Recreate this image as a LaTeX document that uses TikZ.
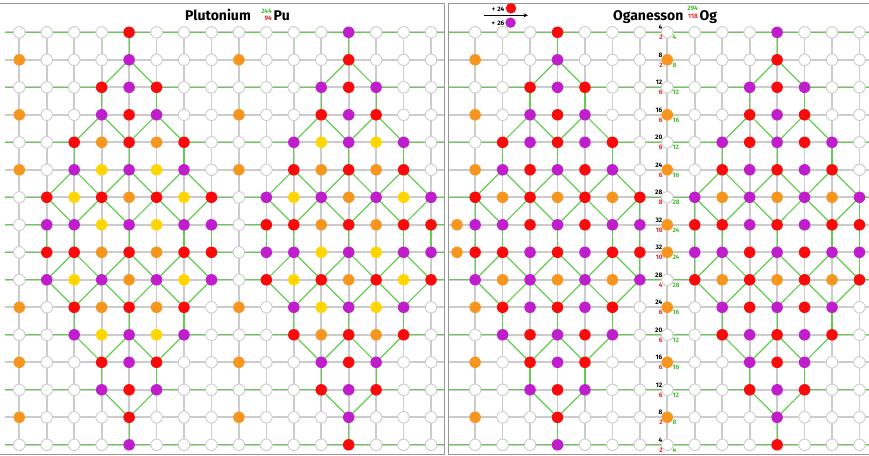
\documentclass[tikz,border=0pt]{standalone}
\usepackage{fontspec}
\setmainfont{Fira Sans}
\usetikzlibrary{arrows.meta}
\pgfdeclarelayer{bg}
\pgfdeclarelayer{mid}
\pgfsetlayers{bg,mid,main}
\definecolor{cR}{RGB}{250,10,10}
\definecolor{cP}{RGB}{192,30,204}
\definecolor{cO}{RGB}{247,150,30}
\definecolor{cY}{RGB}{255,214,0}
\definecolor{gridg}{RGB}{204,204,204}
\definecolor{lineg}{RGB}{100,205,80}
\definecolor{frameg}{RGB}{150,150,150}
\definecolor{labg}{RGB}{70,190,50}
\definecolor{labr}{RGB}{235,40,40}
\begin{document}
\begin{tikzpicture}[x=1pt,y=-1pt,
  nd/.style={circle,inner sep=0pt,minimum size=11.5pt},
  nW/.style={nd,fill=white,draw=gridg,line width=0.9pt},
  nR/.style={nd,fill=cR},
  nP/.style={nd,fill=cP},
  nO/.style={nd,fill=cO},
  nY/.style={nd,fill=cY},
  gl/.style={draw=gridg,line width=1.7pt},
  gr/.style={draw=lineg,line width=1.2pt},
  ttl/.style={inner sep=0pt,font=\fontsize{14}{16}\selectfont\bfseries},
  iso/.style={inner sep=0pt,font=\fontsize{6.5}{7}\selectfont\bfseries},
  lab/.style={inner sep=0pt,font=\fontsize{6.5}{7}\selectfont\bfseries},
  leg/.style={inner sep=0pt,font=\fontsize{6.5}{7}\selectfont\bfseries}]
\useasboundingbox (0,0) rectangle (869,455);

% ---------- left panel nodes ----------
\foreach \r/\row in {
 0/{W,W,W,W,R,W,W,W,W,W,W,W,P,W,W,W},
 1/{O,W,W,W,P,W,W,W,O,W,W,W,R,W,W,W},
 2/{W,W,W,R,P,R,W,W,W,W,W,P,R,P,W,W},
 3/{O,W,W,P,R,P,W,W,O,W,W,R,P,R,W,W},
 4/{W,W,R,O,R,O,R,W,W,W,P,Y,P,Y,P,W},
 5/{O,W,P,Y,P,Y,P,W,O,W,R,O,R,O,R,W},
 6/{W,R,Y,R,O,R,Y,R,W,P,Y,P,O,P,Y,P},
 7/{W,P,P,Y,P,Y,P,P,W,R,R,O,R,O,R,R},
 8/{W,R,R,O,R,O,R,R,W,P,P,Y,P,Y,P,P},
 9/{W,P,Y,P,O,P,Y,P,W,R,Y,R,O,R,Y,R},
 10/{O,W,R,O,R,O,R,W,O,W,P,Y,P,Y,P,W},
 11/{W,W,P,Y,P,Y,P,W,W,W,R,O,R,O,R,W},
 12/{O,W,W,R,P,R,W,W,O,W,W,P,R,P,W,W},
 13/{W,W,W,P,R,P,W,W,W,W,W,R,P,R,W,W},
 14/{O,W,W,W,R,W,W,W,O,W,W,W,P,W,W,W},
 15/{W,W,W,W,P,W,W,W,W,W,W,W,R,W,W,W}} {
  \coordinate (LW-\r) at (5,{32.3+27.5*\r});
  \coordinate (LE-\r) at (443.5,{32.3+27.5*\r});
  \coordinate (RW-\r) at (449,{32.3+27.5*\r});
  \coordinate (RE-\r) at (869,{32.3+27.5*\r});
  \foreach \k [count=\cc from 0] in \row {
    \node[n\k] (L-\r-\cc) at ({19.3+27.45*\cc},{32.3+27.5*\r}) {};
  }
}
% ---------- right panel nodes ----------
\foreach \r/\row in {
 0/{W,W,W,R,W,W,W,W,W,W,W,P,W,W,W},
 1/{O,W,W,P,W,W,W,O,W,W,W,R,W,W,W},
 2/{W,W,R,P,R,W,W,W,W,W,P,R,P,W,W},
 3/{O,W,P,R,P,W,W,O,W,W,R,P,R,W,W},
 4/{W,R,P,R,P,R,W,W,W,P,R,P,R,P,W},
 5/{O,P,R,P,R,P,W,O,W,R,P,R,P,R,W},
 6/{R,O,R,O,R,O,R,W,P,O,P,O,P,O,P},
 7/{P,P,R,P,R,P,P,O,R,R,P,R,P,R,R},
 8/{R,R,P,R,P,R,R,O,P,P,R,P,R,P,P},
 9/{P,O,P,O,P,O,P,W,R,O,R,O,R,O,R},
 10/{O,R,P,R,P,R,W,O,W,P,R,P,R,P,W},
 11/{W,P,R,P,R,P,W,W,W,R,P,R,P,R,W},
 12/{O,W,R,P,R,W,W,O,W,W,P,R,P,W,W},
 13/{W,W,P,R,P,W,W,W,W,W,R,P,R,W,W},
 14/{O,W,W,R,W,W,W,O,W,W,W,P,W,W,W},
 15/{W,W,W,P,W,W,W,W,W,W,W,R,W,W,W}} {
  \foreach \k [count=\cc from 1] in \row {
    \node[n\k] (R-\r-\cc) at ({447.7+27.45*\cc},{32.3+27.5*\r}) {};
  }
}
\node[nO] (R-7-x) at (457,{32.3+27.5*7}) {};
\node[nO] (R-8-x) at (457,{32.3+27.5*8}) {};

% ---------- grey grid ----------
\begin{pgfonlayer}{bg}
\fill[white] (0,0) rectangle (869,455);
\foreach \r in {0,...,15} {
  \draw[gl] (LW-\r) -- (LE-\r);
  \draw[gl] (RW-\r) -- (RE-\r);
}
\foreach \cc in {0,...,15} { \draw[gl] (L-0-\cc.center) -- (L-15-\cc.center); }
\foreach \cc in {1,...,15} { \draw[gl] (R-0-\cc.center) -- (R-15-\cc.center); }
% frame
\draw[frameg,line width=0.9pt] (0,3.5) -- (444,3.5) -- (444,454) -- (0,454);
\draw[frameg,line width=0.9pt] (869,3.5) -- (448,3.5) -- (448,454) -- (869,454);
\end{pgfonlayer}

% ---------- green connections ----------
\begin{pgfonlayer}{mid}
\foreach \p in {L,R} {
  \draw[gr] (\p W-0) -- (\p E-0);
  \draw[gr] (\p W-15) -- (\p E-15);
}
\foreach \r/\a in {2/3,13/3,4/2,11/2,6/1,9/1} {
  \pgfmathtruncatemacro\bb{8-\a}
  \pgfmathtruncatemacro\cc{8+\a}
  \pgfmathtruncatemacro\dd{16-\a}
  \draw[gr] (LW-\r) -- (L-\r-\a.center);
  \draw[gr] (L-\r-\bb.center) -- (L-\r-\cc.center);
  \draw[gr] (L-\r-\dd.center) -- (LE-\r);
  \draw[gr] (RW-\r) -- (R-\r-\a.center);
  \draw[gr] (R-\r-\bb.center) -- (R-\r-\cc.center);
  \draw[gr] (R-\r-\dd.center) -- (RE-\r);
}
\foreach \r in {7,8} {
  \draw[gr] (LW-\r) -- (L-\r-1.center);
  \draw[gr] (L-\r-7.center) -- (L-\r-9.center);
  \draw[gr] (L-\r-15.center) -- (LE-\r);
}
\foreach \ra/\da/\rb/\db in {0/0/1/0, 1/0/2/-1, 1/0/2/1, 2/-1/3/-1, 2/1/3/1,
   3/-1/4/-2, 3/-1/4/0, 3/1/4/0, 3/1/4/2, 4/-2/5/-2, 4/0/5/0, 4/2/5/2,
   5/-2/6/-3, 5/-2/6/-1, 5/0/6/-1, 5/0/6/1, 5/2/6/1, 5/2/6/3,
   6/-3/7/-2, 6/-1/7/-2, 6/-1/7/0, 6/1/7/0, 6/1/7/2, 6/3/7/2} {
  \foreach \s in {4,12} {
    \pgfmathtruncatemacro\ca{\s+\da}
    \pgfmathtruncatemacro\cb{\s+\db}
    \pgfmathtruncatemacro\rma{15-\ra}
    \pgfmathtruncatemacro\rmb{15-\rb}
    \foreach \p in {L,R} {
      \draw[gr] (\p-\ra-\ca.center) -- (\p-\rb-\cb.center);
      \draw[gr] (\p-\rma-\ca.center) -- (\p-\rmb-\cb.center);
    }
  }
}
\foreach \s in {4,12} {
  \foreach \d in {-3,-2,0,2,3} {
    \pgfmathtruncatemacro\ca{\s+\d}
    \draw[gr] (L-7-\ca.center) -- (L-8-\ca.center);
    \draw[gr] (R-7-\ca.center) -- (R-8-\ca.center);
  }
  \foreach \d in {-3,3} {
    \pgfmathtruncatemacro\ca{\s+\d}
    \draw[gr] (R-6-\ca.center) -- (R-7-\ca.center);
    \draw[gr] (R-8-\ca.center) -- (R-9-\ca.center);
  }
}
\end{pgfonlayer}

% ---------- shell labels ----------
\foreach \r/\t/\zr/\zg in {0/4/2/4, 1/8/2/8, 2/12/6/12, 3/16/6/16, 4/20/6/12,
   5/24/6/16, 6/28/8/28, 7/32/10/24, 8/32/10/24, 9/28/4/28, 10/24/6/16,
   11/20/6/12, 12/16/6/16, 13/12/6/12, 14/8/2/8, 15/4/2/4} {
  \node[lab,anchor=east] (nb-\r) at (662.5,{32.3+27.5*\r-4.8}) {\t};
  \node[lab,anchor=east,text=labr] (nr-\r) at (662.8,{32.3+27.5*\r+5.2}) {\zr};
  \node[lab,anchor=west,text=labg] (ng-\r) at (672.3,{32.3+27.5*\r+5.2}) {\zg};
}

% ---------- titles ----------
\node[ttl,anchor=base west] (tpu) at (185,20) {Plutonium};
\node[iso,text=labg,anchor=east] (mpu) at (272,11) {244};
\node[iso,text=labr,anchor=east] (zpu) at (272,18.3) {94};
\node[ttl,anchor=base west] (spu) at (273.5,20) {Pu};

\node[ttl,anchor=base west] (tog) at (613,20) {Oganesson};
\node[iso,text=labg,anchor=east] (mog) at (698,8.5) {294};
\node[iso,text=labr,anchor=east] (zog) at (698,16.3) {118};
\node[ttl,anchor=base west] (sog) at (699.5,20) {Og};

% ---------- legend ----------
\node[leg,anchor=east] (p24) at (504.5,9.2) {+\,\,24};
\node[nR,minimum size=10.5pt] (c24) at (511,8.3) {};
\node[leg,anchor=east] (p26) at (504.5,22.9) {+\,\,26};
\node[nP,minimum size=10.5pt] (c26) at (510.5,22.7) {};
\coordinate (a1) at (483.5,15.3);
\coordinate (a2) at (528,15.3);
\draw[line width=0.8pt,-{Stealth[length=4.5pt,width=4pt]}] (a1) -- (a2);
\end{tikzpicture}
\end{document}
